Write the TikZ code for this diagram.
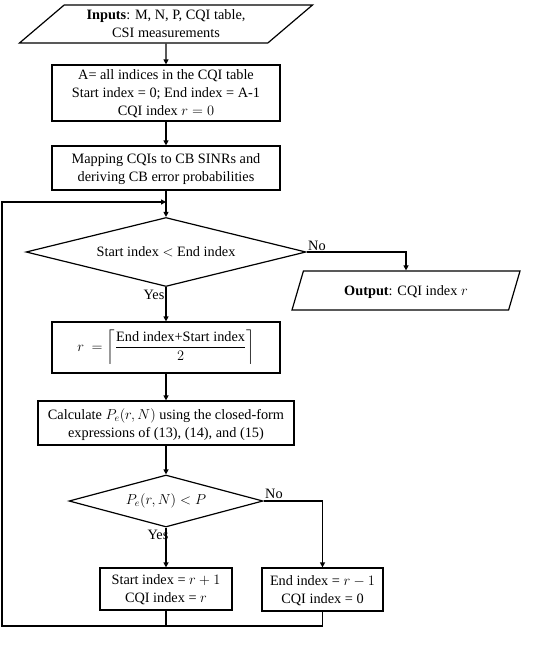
\documentclass[tikz,border=0pt]{standalone}
\usepackage{amsmath}
\usepackage{fontspec}
\setmainfont{Liberation Serif}
\usetikzlibrary{arrows.meta, positioning, shapes.geometric}

\begin{document}
\begin{tikzpicture}[x=1pt, y=-1pt,
  every node/.style={font=\fontsize{14.3}{18}\selectfont},
  procbox/.style={draw, line width=1.2pt, align=center, inner sep=2pt},
  decision/.style={draw, diamond, line width=1.2pt, inner sep=0pt, aspect=4},
  iobox/.style={draw, trapezium, trapezium stretches body, line width=1.2pt,
                align=center, inner sep=0pt, text depth=0pt},
  flow/.style={-{Triangle[length=5pt,width=5pt]}, line width=1.2pt},
  link/.style={line width=1.2pt}]

\useasboundingbox (0,0) rectangle (540,663);

% --- Inputs ---
\node[iobox, trapezium left angle=32, trapezium right angle=148,
      minimum width=293pt, minimum height=38pt] (inputs) at (166,24)
      {\textbf{Inputs}: M, N, P, CQI table,\\CSI measurements};

% --- Initialisation ---
\node[procbox, text depth=0pt, minimum width=228pt, minimum height=56pt] (init) at (166,93)
      {A= all indices in the CQI table\\Start index = 0; End index = A-1\\CQI index $r = 0$};

\node[procbox, text depth=0pt, minimum width=228pt, minimum height=44pt] (mapping) at (166,168)
      {Mapping CQIs to CB SINRs and\\deriving CB error probabilities};

% --- Search loop ---
\coordinate (join) at (166,202);
\node[decision, minimum width=280pt, minimum height=69pt] (bounds) at (166,252)
      {Start index $<$ End index};

\node[iobox, trapezium left angle=41, trapezium right angle=139,
      minimum width=228pt, minimum height=39pt] (output) at (406,290.5)
      {\textbf{Output}: CQI index $r$};

\node[procbox, minimum width=228pt, minimum height=51pt] (middle) at (166,347.5)
      {$r\ =\left\lceil\dfrac{\text{End index+Start index}}{2}\right\rceil$};

\node[procbox, text depth=0pt, minimum width=256pt, minimum height=44pt] (calc) at (166,423)
      {Calculate $P_e(r,N)$ using the closed-form\\expressions of (13), (14), and (15)};

\node[decision, aspect=3.7, minimum width=194pt, minimum height=52pt] (target) at (166,501)
      {$P_e(r,N) < P$};

\node[procbox, text depth=0pt, minimum width=132pt, minimum height=42pt] (raise) at (166,589)
      {Start index = $r+1$\\CQI index = $r$};
\node[procbox, text depth=0pt, minimum width=121pt, minimum height=43pt] (lower) at (322.5,589.5)
      {End index = $r-1$\\CQI index = 0};

\coordinate (back) at (2,626);

% --- Connectors ---
\draw[flow] (inputs) -- (init);
\draw[flow] (init) -- (mapping);
\draw[flow] (mapping.south) -- (bounds.north);
\draw[flow] (bounds.east) node[above right, inner sep=1pt] (no1) {No} -| (output.north);
\draw[flow] (bounds.south) node[below left, inner sep=1pt, yshift=-1pt] (yes1) {Yes} -- (middle.north);
\draw[flow] (middle) -- (calc);
\draw[flow] (calc) -- (target);
\draw[flow] (target.east) node[above right, inner sep=1pt, yshift=1pt] (no2) {No} -| (lower.north);
\draw[flow] (target.south) node[below left, inner sep=1pt, xshift=4pt, yshift=-1pt] (yes2) {Yes} -- (raise.north);
\draw[link] (raise.south) -- (raise.south |- back);
\draw[flow] (lower.south) |- (back) |- (join);

\end{tikzpicture}
\end{document}
